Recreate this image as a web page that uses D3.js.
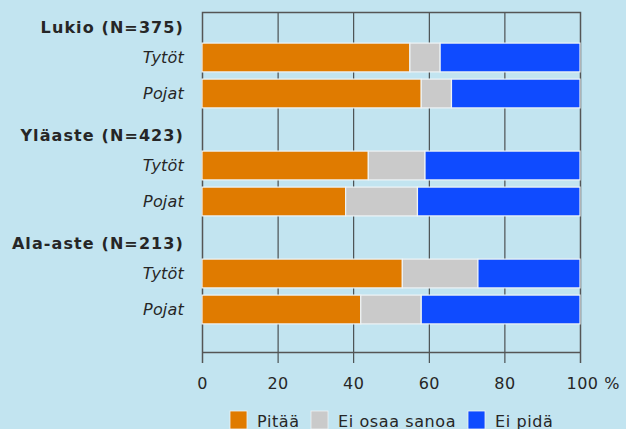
<!DOCTYPE html>
<html><head><meta charset="utf-8">
<script src="https://cdn.jsdelivr.net/npm/d3@7"></script>
<style>
html,body{margin:0;padding:0;background:#c2e4f0;}
svg{display:block;font-family:"DejaVu Sans",Verdana,sans-serif;}
</style></head>
<body>
<svg id="c" width="626" height="429"></svg>
<script>
const groups = ["Lukio (N=375)", "Yläaste (N=423)", "Ala-aste (N=213)"];
const subLabels = ["Tytöt", "Pojat"];
const seriesNames = ["Pitää", "Ei osaa sanoa", "Ei pidä"];
const colors = ["#e07b00", "#cacaca", "#0f4bff"];
// per row: Lukio Tytöt, Lukio Pojat, Yläaste Tytöt, Yläaste Pojat, Ala-aste Tytöt, Ala-aste Pojat
const pitaa = [55, 58, 44, 38, 53, 42];
const eiOsaa = [8, 8, 15, 19, 20, 16];
const eiPida = [37, 34, 41, 43, 27, 42];
const xTicks = [0, 20, 40, 60, 80, 100];

(function () {
const svg = d3.select("#c");
const pLeft = 202, pRight = 580, pTop = 12, pBottom = 352;
const txt = "#262626";

const rows = [];
groups.forEach((g, gi) => {
  rows.push({key: "h" + gi, type: "header", label: g});
  subLabels.forEach((s, si) => rows.push({key: "r" + gi + "_" + si, type: "bar", label: s, idx: gi * 2 + si}));
});

const x = d3.scaleLinear().domain([0, 100]).range([pLeft, pRight]);
const y = d3.scaleBand().domain(rows.map(r => r.key)).range([3.5, 327.5]).paddingInner(0.2).paddingOuter(0.1);

const axis = d3.axisBottom(x).tickValues(xTicks).tickSize(11).tickFormat(d => d === 100 ? "100 %" : d);
const ag = svg.append("g").attr("transform", `translate(0,${pBottom})`).call(axis);
ag.select(".domain").remove();
ag.selectAll(".tick line").attr("stroke", "#333").attr("stroke-width", 1);
ag.selectAll(".tick text").attr("font-size", 16).attr("fill", txt).attr("y", 36.5).attr("dy", 0)
  .attr("letter-spacing", 0.5)
  .attr("font-family", '"DejaVu Sans",Verdana,sans-serif');
ag.selectAll(".tick").filter(d => d === 100).select("text").attr("text-anchor", "start").attr("dx", -14);

svg.append("g").selectAll("line").data(xTicks.filter(d => d > 0 && d < 100)).join("line")
  .attr("x1", d => x(d) + 0.5).attr("x2", d => x(d) + 0.5).attr("y1", pTop).attr("y2", pBottom)
  .attr("stroke", "#333").attr("stroke-width", 1);

svg.append("path")
  .attr("d", `M${pLeft + 0.5},${pBottom + 11}V${pTop + 0.5}H${pRight + 0.5}V${pBottom + 11}M${pLeft},${pBottom + 0.5}H${pRight}`)
  .attr("fill", "none").attr("stroke", "#555").attr("stroke-width", 1.5);

const series = [pitaa, eiOsaa, eiPida];
rows.filter(r => r.type === "bar").forEach(r => {
  let acc = 0;
  series.forEach((s, si) => {
    const v = s[r.idx];
    svg.append("rect")
      .attr("x", x(acc)).attr("y", y(r.key))
      .attr("width", x(acc + v) - x(acc)).attr("height", y.bandwidth())
      .attr("fill", colors[si]).attr("stroke", "#eef3f5").attr("stroke-width", 1.2);
    acc += v;
  });
});

rows.forEach(r => {
  const t = svg.append("text")
    .attr("x", 184).attr("text-anchor", "end")
    .attr("font-size", 16).attr("fill", txt)
    .text(r.label);
  if (r.type === "header") {
    t.attr("y", y(r.key) + y.bandwidth() / 2 + 5.5).attr("dy", "0.35em").attr("font-weight", "bold")
     .attr("letter-spacing", 1.1);
  } else {
    t.attr("y", y(r.key) + y.bandwidth() / 2).attr("dy", "0.35em").attr("font-style", "italic")
     .attr("letter-spacing", 0.2);
  }
});

const legendX = [230, 311, 468];
const lg = svg.append("g");
seriesNames.forEach((n, i) => {
  lg.append("rect").attr("x", legendX[i]).attr("y", 411).attr("width", 17).attr("height", 18)
    .attr("fill", colors[i]).attr("stroke", "#eef3f5").attr("stroke-width", 0.8);
  lg.append("text").attr("x", legendX[i] + 27).attr("y", 426.5).attr("font-size", 16)
    .attr("letter-spacing", 0.6).attr("fill", txt).text(n);
});
})();
</script>
</body></html>
